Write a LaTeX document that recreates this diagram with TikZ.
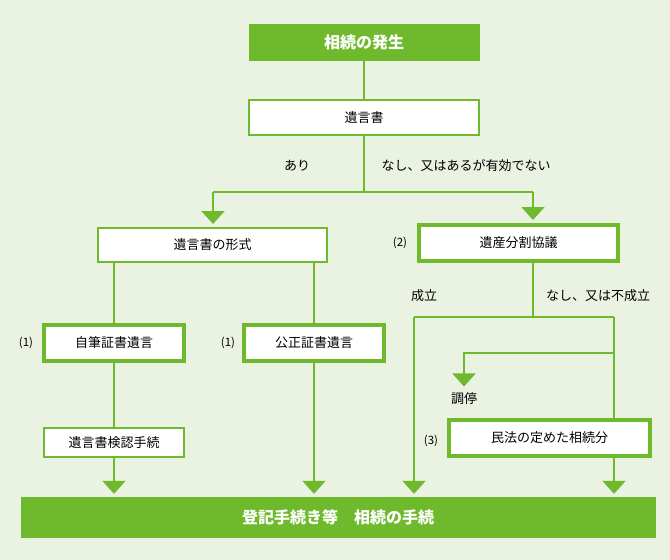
\documentclass[tikz,border=0pt]{standalone}
\usepackage{fontspec}
\setmainfont{Noto Sans CJK JP}
\usetikzlibrary{arrows.meta}
\definecolor{leaf}{RGB}{110,185,44}
\definecolor{paper}{RGB}{234,242,226}

\begin{document}
\begin{tikzpicture}[x=1pt, y=-1pt,
	box/.style={draw=leaf, line width=2pt, fill=white, inner sep=0pt, font=\fontsize{13}{13}\selectfont},
	thickbox/.style={box, line width=4pt},
	headbox/.style={fill=leaf, text=white, inner sep=0pt, font=\fontsize{16}{16}\selectfont\bfseries},
	line/.style={draw=leaf, line width=1.8pt},
	arrow/.style={line, -{Triangle[width=23pt, length=13pt]}, shorten >=3pt},
	lbl/.style={font=\fontsize{13}{13}\selectfont},
	num/.style={font=\fontsize{11.5}{11.5}\selectfont}]
	\fill[paper] (0, 0) rectangle (670, 560);
	\useasboundingbox (0, 0) rectangle (670, 560);

	\node[headbox, minimum width=231, minimum height=37] (hassei) at (364, 42.5) {相続の発生};
	\node[box, minimum width=230, minimum height=35] (igon) at (364, 117.5) {遺言書};
	\node[box, minimum width=229, minimum height=34] (keishiki) at (212.5, 245) {遺言書の形式};
	\node[thickbox, minimum width=199, minimum height=36] (kyogi) at (518.5, 243) {遺産分割協議};
	\node[thickbox, minimum width=140, minimum height=36] (jihitsu) at (114, 343) {自筆証書遺言};
	\node[thickbox, minimum width=140, minimum height=36] (kosei) at (314, 343) {公正証書遺言};
	\node[box, minimum width=140, minimum height=29] (kennin) at (114, 442.5) {遺言書検認手続};
	\node[thickbox, minimum width=201, minimum height=36] (minpo) at (549.5, 438) {民法の定めた相続分};
	\node[headbox, minimum width=635, minimum height=41] (tetsu) at (338, 517.5) {登記手続き等　相続の手続};

	% labels on the branches
	\node[lbl] (ari) at (297, 166) {あり};
	\node[lbl] (nashi) at (466, 166) {なし、又はあるが有効でない};
	\node[lbl] (seiritsu) at (424, 296) {成立};
	\node[lbl] (fuseiritsu) at (598, 296) {なし、又は不成立};
	\node[lbl] (chotei) at (464, 399) {調停};
	\node[num] (n1) at (26, 343) {(1)};
	\node[num] (n2) at (228, 343) {(1)};
	\node[num] (n3) at (400, 243) {(2)};
	\node[num] (n4) at (431, 441) {(3)};

	\coordinate (split1) at (364, 192);
	\coordinate (lt1) at (213, 192);
	\coordinate (rt1) at (533, 192);
	\coordinate (split2) at (533, 317);
	\coordinate (lt2) at (414, 317);
	\coordinate (rt2) at (614, 317);
	\coordinate (split3) at (614, 353);

	\draw[line] (hassei) -- (igon);
	\draw[line] (igon) -- (split1);
	\draw[line] (lt1) -- (rt1);
	\draw[arrow] (lt1) -- (lt1 |- keishiki.north);
	\draw[arrow] (rt1) -- (rt1 |- kyogi.north);

	\draw[line] (jihitsu.north |- keishiki.south) -- (jihitsu.north);
	\draw[line] (kosei.north |- keishiki.south) -- (kosei.north);
	\draw[line] (jihitsu) -- (kennin);
	\draw[arrow] (kennin) -- (kennin |- tetsu.north);
	\draw[arrow] (kosei) -- (kosei |- tetsu.north);

	\draw[line] (kyogi.south -| split2) -- (split2);
	\draw[line] (lt2) -- (rt2);
	\draw[arrow] (lt2) -- (lt2 |- tetsu.north);
	\draw[line] (rt2) -- (rt2 |- minpo.north);
	\draw[arrow] (split3) -| (chotei.north);
	\draw[arrow] (minpo.south -| rt2) -- (rt2 |- tetsu.north);
\end{tikzpicture}
\end{document}
